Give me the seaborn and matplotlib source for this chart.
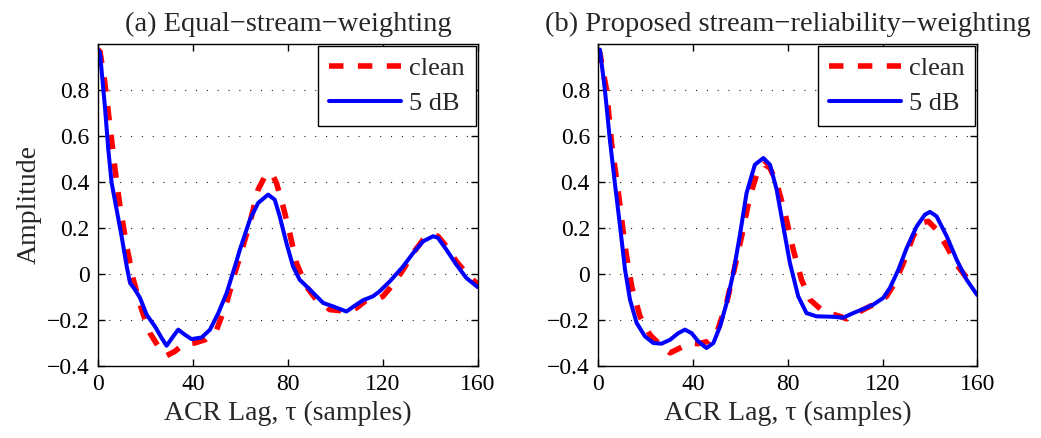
import numpy as np
import pandas as pd
import matplotlib
matplotlib.use("Agg")
import matplotlib.pyplot as plt
import seaborn as sns

# ---------------- data ----------------
a_clean_x = [0, 0.85, 2.9, 5.05, 7.2, 9.26, 12.1, 14.9, 18.4, 21.9, 25.4, 28.9, 32.3, 35.9, 40.8,
             45.1, 50, 54.2, 57.7, 60.5, 64, 67.5, 70.3, 73.1, 75.2, 78, 80.8, 83.6, 87.8, 92,
             97.7, 104.7, 108.9, 113.1, 117.3, 120.1, 124.3, 128.6, 132.8, 137, 140.5, 143.3,
             146.8, 151, 155.2, 160]
a_clean_y = [0.975, 0.967, 0.83, 0.642, 0.453, 0.294, 0.12, -0.025, -0.155, -0.257, -0.315,
             -0.355, -0.337, -0.307, -0.30, -0.286, -0.242, -0.126, 0.004, 0.10, 0.222, 0.367,
             0.424, 0.44, 0.396, 0.294, 0.178, 0.048, -0.054, -0.112, -0.155, -0.162, -0.148,
             -0.114, -0.112, -0.097, -0.046, 0.019, 0.091, 0.149, 0.171, 0.164, 0.12, 0.055,
             0.004, -0.045]

a_noisy_x = [0, 0.85, 2.9, 4.35, 5.75, 7.85, 9.96, 12.1, 13.5, 15.6, 17.7, 20.5, 24, 26.8, 28.9,
             31.7, 33.8, 36.6, 39.4, 43.7, 47.2, 50.7, 54.2, 57.7, 59.8, 64, 67.5, 71.7, 74.5,
             76.6, 79.4, 82.2, 85, 89.3, 94.9, 99.1, 104.7, 108.9, 111.7, 115.9, 118.7, 123,
             128.6, 132.8, 137, 141.2, 143.3, 146.8, 151, 155.2, 160]
a_noisy_y = [0.975, 0.96, 0.729, 0.54, 0.396, 0.28, 0.163, 0.033, -0.039, -0.068, -0.104, -0.177,
             -0.228, -0.278, -0.312, -0.271, -0.242, -0.264, -0.283, -0.276, -0.242, -0.17,
             -0.083, 0.033, 0.106, 0.236, 0.309, 0.345, 0.323, 0.25, 0.135, 0.033, -0.025,
             -0.068, -0.126, -0.141, -0.163, -0.133, -0.114, -0.097, -0.075, -0.032, 0.033,
             0.091, 0.142, 0.164, 0.157, 0.106, 0.041, -0.017, -0.057]

b_clean_x = [0, 0.7, 3.5, 5.6, 8.5, 11.3, 14.1, 17.6, 21.8, 26, 30.3, 33.1, 38.7, 42.2, 46.4, 50,
             54.2, 57.7, 60.5, 64, 67.5, 70, 72.5, 75.3, 78.8, 82.3, 85.8, 89.4, 95, 102, 104.8,
             109.1, 113.3, 117.5, 121.7, 125.2, 128.8, 132.9, 136.5, 139.3, 142.8, 147.1, 151.3,
             155.5, 160]
b_clean_y = [0.98, 0.96, 0.80, 0.57, 0.352, 0.12, -0.054, -0.184, -0.264, -0.307, -0.343, -0.329,
             -0.30, -0.303, -0.293, -0.257, -0.126, 0.033, 0.163, 0.338, 0.452, 0.478, 0.46,
             0.396, 0.265, 0.106, -0.025, -0.112, -0.163, -0.184, -0.195, -0.17, -0.148, -0.126,
             -0.097, -0.039, 0.048, 0.164, 0.222, 0.229, 0.193, 0.12, 0.041, -0.017, -0.055]

b_noisy_x = [0, 0.7, 2.8, 4.9, 7, 9.2, 11.3, 13.4, 16.2, 19.7, 23.2, 26.7, 30.3, 33.8, 36.6, 39.4,
             42.2, 45.7, 48.6, 51.4, 54.2, 57, 59.8, 62.6, 66.1, 69.7, 72.5, 75.3, 78.1, 80.9,
             84.4, 87.9, 92.1, 99.2, 103.4, 107.6, 111.9, 116.1, 120.3, 123.1, 126.7, 130.2,
             134.4, 137.9, 140, 142.8, 147.1, 151.3, 155.5, 160]
b_noisy_y = [0.975, 0.975, 0.80, 0.584, 0.396, 0.207, 0.019, -0.112, -0.213, -0.271, -0.30,
             -0.303, -0.286, -0.257, -0.242, -0.257, -0.293, -0.322, -0.30, -0.228, -0.126,
             0.004, 0.17, 0.352, 0.475, 0.504, 0.475, 0.367, 0.207, 0.048, -0.097, -0.17,
             -0.184, -0.186, -0.19, -0.17, -0.152, -0.133, -0.104, -0.061, 0.019, 0.113, 0.207,
             0.258, 0.27, 0.251, 0.164, 0.062, -0.025, -0.092]

titles = ["(a) Equal\u2212stream\u2212weighting",
          "(b) Proposed stream\u2212reliability\u2212weighting"]
series_labels = ["clean", "5 dB"]
x_ticks = [0, 40, 80, 120, 160]
y_ticks = [-0.4, -0.2, 0, 0.2, 0.4, 0.6, 0.8]
y_tick_labels = ["\u22120.4", "\u22120.2", "0", "0.2", "0.4", "0.6", "0.8"]
x_label = "ACR Lag, \u03c4 (samples)"
y_label = "Amplitude"

# ---------------- style ----------------
sns.set_style("ticks")
plt.rcParams["font.family"] = ["Liberation Serif", "DejaVu Serif"]
plt.rcParams["axes.unicode_minus"] = True

fig = plt.figure(figsize=(10.41, 4.38), dpi=100)
ax1 = fig.add_axes([0.09414, 0.1644, 0.3647, 0.7352])
ax2 = fig.add_axes([0.5747, 0.1644, 0.3641, 0.7352])

panels = [
    (ax1, a_clean_x, a_clean_y, a_noisy_x, a_noisy_y, titles[0]),
    (ax2, b_clean_x, b_clean_y, b_noisy_x, b_noisy_y, titles[1]),
]

for i, (ax, cx, cy, nx, ny, title) in enumerate(panels):
    dfc = pd.DataFrame({"x": cx, "y": cy})
    dfn = pd.DataFrame({"x": nx, "y": ny})
    sns.lineplot(data=dfc, x="x", y="y", ax=ax, color="#ff0000", linewidth=4.0,
                 estimator=None, sort=False, label=series_labels[0])
    sns.lineplot(data=dfn, x="x", y="y", ax=ax, color="#0000ff", linewidth=2.9,
                 estimator=None, sort=False, label=series_labels[1])
    lines = ax.get_lines()
    lines[0].set_dashes((2.6, 2.6))
    lines[0].set_dash_capstyle("butt")
    for ln in lines:
        ln.set_solid_capstyle("round")
        ln.set_solid_joinstyle("round")

    ax.set_xlim(0, 160)
    ax.set_ylim(-0.4, 1.0)
    ax.set_xticks(x_ticks)
    ax.set_xticklabels([str(t) for t in x_ticks])
    ax.set_yticks(y_ticks)
    ax.set_yticklabels(y_tick_labels)
    ax.tick_params(axis="both", which="both", direction="in", length=5, width=1.0,
                   top=True, right=True, labelsize=17, pad=6, colors="black")
    ax.yaxis.grid(True, color="#222222", linestyle=(0, (1, 8.75)), linewidth=0.8)
    ax.xaxis.grid(False)
    for sp in ax.spines.values():
        sp.set_visible(True)
        sp.set_color("black")
        sp.set_linewidth(1.0)
    ax.set_xlabel(x_label, fontsize=20, labelpad=4)
    if i == 0:
        ax.set_ylabel(y_label, fontsize=20, labelpad=4)
    else:
        ax.set_ylabel("")
    ax.set_title(title, fontsize=20.5, pad=9)
    leg = ax.legend(loc="upper right", fontsize=19, frameon=True, fancybox=False,
                    edgecolor="black", framealpha=1.0, borderaxespad=0.08,
                    handlelength=2.75, handletextpad=0.3, labelspacing=0.45,
                    borderpad=0.4)
    leg.get_frame().set_linewidth(1.0)

fig.savefig("out.png", dpi=100)
